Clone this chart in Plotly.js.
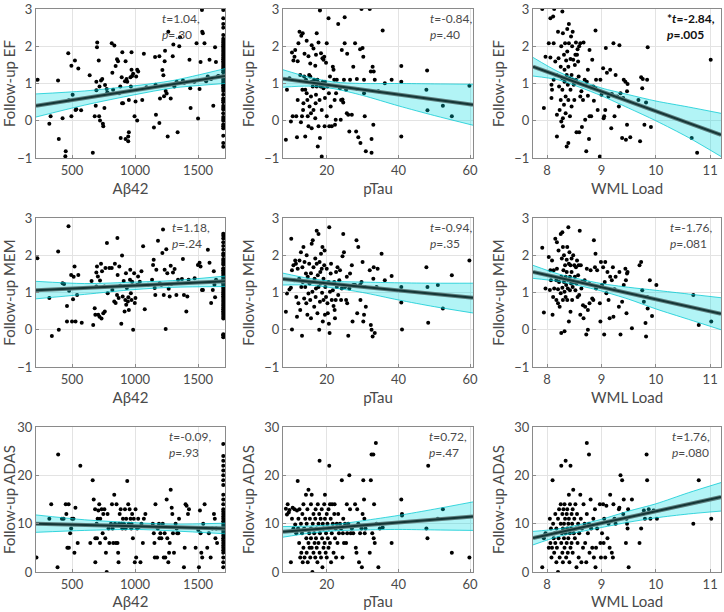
<!DOCTYPE html>
<html>
<head>
<meta charset="utf-8">
<script src="https://cdn.plot.ly/plotly-3.0.1.min.js"></script>
<style>
  html, body { margin: 0; padding: 0; background: #fff; }
  #chart { width: 724px; height: 612px; }
</style>
</head>
<body>
<div id="chart"></div>
<script>
// scatter points [x, y], one array per panel
// row 1: follow-up EF
var ab_ef = [[227,1.1],[330,0.12],[320,-0.08],[389,1.08],[395,-0.49],[425,0.07],[450,-0.82],[447,-0.95],[470,1.81],[495,1.48],
  [495,0.12],[475,0.55],[505,0.7],[523,1.62],[534,0.31],[528,0.29],[550,1.4],[572,0.28],[640,1.22],[665,-0.86],
  [680,0.12],[688,0.4],[693,0.82],[693,1.05],[698,1.97],[700,2.1],[712,1.62],[718,0.92],[715,0.12],[722,0.01],
  [730,1.08],[740,1.12],[745,-0.08],[748,-0.15],[757,0.34],[762,0.96],[775,0.85],[780,0.76],[785,0.74],[815,2.08],
  [820,1.29],[826,0.83],[836,2.02],[846,1.47],[857,1.65],[865,1.6],[873,0.74],[883,0.92],[894,1.17],[897,0.47],
  [899,1.84],[886,-0.46],[905,0.47],[920,1.06],[925,1.6],[925,-0.49],[933,1.12],[938,1.05],[946,-0.42],[946,-0.55],
  [951,0.56],[951,-0.31],[964,1.17],[967,0.92],[972,1.84],[972,1.37],[977,1.2],[985,1.26],[996,0.12],[1004,0.52],
  [1009,1.19],[1017,0.01],[1017,1.37],[1025,1.32],[1057,0.56],[1070,1.8],[1091,0.9],[1150,-0.18],[1159,1.71],[1166,0.16],
  [1163,0.97],[1193,1.73],[1193,-0.06],[1198,0.6],[1217,1.36],[1225,1.22],[1230,0.66],[1235,1.6],[1238,1.88],[1243,0.8],
  [1251,0.73],[1259,-0.42],[1264,2.39],[1283,0.6],[1299,1.73],[1304,2.05],[1312,0.92],[1330,1.05],[1338,-0.31],[1351,2.0],
  [1357,2.24],[1380,1.08],[1391,1.02],[1432,1.64],[1438,0.87],[1441,0.34],[1470,1.05],[1488,2.08],[1500,0.06],[1512,0.85],
  [1520,1.58],[1531,2.97],[1533,2.39],[1538,2.35],[1551,2.08],[1564,1.06],[1577,1.19],[1591,1.64],[1604,1.12],[1621,0.4],
  [1635,1.97],[1642,1.58],[1655,1.19],[1662,1.2],
  [1700,2.97],[1700,2.75],[1700,2.6],[1700,2.5],[1700,2.3],[1700,2.2],[1700,2.15],[1700,2.1],[1700,2.05],[1700,2.0],
  [1700,1.95],[1700,1.9],[1700,1.85],[1700,1.8],[1700,1.75],[1700,1.7],[1700,1.65],[1700,1.6],[1700,1.55],[1700,1.5],
  [1700,1.45],[1700,1.4],[1700,1.35],[1700,1.3],[1700,1.2],[1700,1.15],[1700,1.1],[1700,1.05],[1700,1.0],[1700,0.95],
  [1700,0.9],[1700,0.85],[1700,0.8],[1700,0.7],[1700,0.6],[1700,0.55],[1700,0.5],[1700,0.4],[1700,0.35],[1700,0.3],
  [1700,0.2],[1700,0.1],[1700,0.05],[1700,0.0],[1700,-0.1],[1700,-0.15],[1700,-0.2],[1700,-0.4],[1700,-0.6],[1700,-0.7]];

var tau_ef = [[8.6,-0.51],[8.9,0.83],[9.6,1.14],[10,-0.02],[10.3,1.83],[10.5,0.12],[10.7,1.62],[11,1.72],[11.2,1.9],[11.5,0.12],
  [11.7,-0.44],[11.9,0.56],[11.9,1.6],[12.1,2.08],[12.4,2.39],[12.6,1.23],[12.8,-0.04],[12.9,2.28],[13.1,0.12],[13.2,0.83],
  [13.3,2.35],[13.4,0.29],[13.5,0.47],[13.7,1.19],[13.8,1.8],[14,-0.42],[14,0.83],[14.2,1.1],[14.4,0.74],[14.4,2.15],
  [14.6,0.56],[14.7,0.12],[14.9,1.73],[14.9,-0.15],[15.1,1.23],[15.2,0.38],[15.4,1.54],[15.4,1.19],[15.6,0.2],[15.6,0.65],
  [15.8,-0.2],[15.8,1.05],[15.8,2.03],[16.1,0.92],[16.3,1.94],[16.3,0.29],[16.5,1.1],[16.8,0.07],[16.8,1.48],[16.9,0.47],
  [17,0.7],[17,1.77],[17.2,2.35],[17.2,0.92],[17.4,1.1],[17.5,-0.69],[17.7,2.1],[17.7,-0.15],[17.9,1.01],[18,0.56],
  [18.1,-0.46],[18.1,2.96],[18.3,0.92],[18.4,1.81],[18.6,-0.96],[18.6,0.29],[18.8,1.68],[18.9,1.05],[19.1,1.64],[19.1,0.87],
  [19.3,1.72],[19.4,-0.15],[19.5,1.05],[19.5,0.61],[19.8,1.56],[20,2.08],[20,0.12],[20.2,0.92],[20.5,2.75],[20.6,0.74],
  [20.7,-0.15],[20.9,1.19],[21.1,0.38],[21.4,-0.15],[21.7,1.45],[21.9,1.37],[22.1,1.1],[22.2,0.56],[22.3,-0.11],[22.5,0.03],
  [22.6,0.74],[22.8,1.1],[23.2,2.6],[23.7,0.87],[23.9,0.03],[24,0.56],[24.2,1.9],[24.4,0.57],[24.6,0.49],[24.8,1.1],
  [25,2.78],[25,2.08],[25.4,0.83],[25.6,0.2],[25.7,1.8],[26,0.16],[26.3,-0.29],[26.5,1.1],[27,0.16],[27.4,1.45],
  [27.9,2.08],[28.2,-0.29],[28.4,1.12],[28.5,0.85],[28.8,-0.44],[29.3,1.92],[29.4,-0.6],[29.7,3.0],[30,1.95],[30.2,1.72],
  [30.4,1.1],[30.4,0.74],[30.6,0.12],[30.9,-0.82],[32,3.0],[32.3,1.32],[32.5,-0.86],[32.5,-0.49],[32.8,1.45],[33,-0.11],
  [33.1,1.32],[33.4,1.1],[34.4,0.79],[35.6,2.42],[36.2,1.01],[38.1,1.1],[40.8,1.47],[40.8,1.05],[40.8,-0.42],[47.8,0.83],
  [48,1.35],[48.1,0.28],[52.4,0.4],[54.9,0.12],[59.8,0.94]];

var wml_ef = [[7.91,3.0],[7.94,0.34],[7.97,1.72],[8.03,2.08],[8.06,2.75],[8.11,2.8],[8.12,2.08],[8.06,1.7],[8.08,0.97],[8.08,0.61],
  [8.09,0.83],[8.12,1.1],[8.13,3.0],[8.15,1.59],[8.17,1.23],[8.18,-0.42],[8.18,0.16],[8.2,2.39],[8.21,1.68],[8.22,0.92],
  [8.23,0.29],[8.25,0.56],[8.25,1.45],[8.26,-0.02],[8.26,2.0],[8.28,2.93],[8.28,1.14],[8.28,0.83],[8.29,-0.15],[8.29,2.35],
  [8.29,0.07],[8.31,1.77],[8.31,0.43],[8.32,1.05],[8.32,1.37],[8.33,2.08],[8.34,0.65],[8.34,0.2],[8.35,1.62],[8.36,1.23],
  [8.36,-0.69],[8.37,2.46],[8.37,1.86],[8.38,0.97],[8.39,0.56],[8.39,-0.6],[8.39,1.45],[8.4,2.6],[8.4,2.08],[8.41,1.14],
  [8.42,0.12],[8.43,0.83],[8.43,1.66],[8.44,2.26],[8.45,1.23],[8.45,0.38],[8.46,2.0],[8.47,1.1],[8.47,2.39],[8.48,1.64],
  [8.49,0.97],[8.5,0.56],[8.51,1.5],[8.52,1.77],[8.53,2.1],[8.53,1.1],[8.54,-0.31],[8.55,1.77],[8.56,1.92],[8.57,1.59],
  [8.58,1.19],[8.59,-0.31],[8.59,2.0],[8.61,2.08],[8.61,0.65],[8.63,0.79],[8.64,-0.17],[8.66,0.56],[8.67,2.1],[8.69,1.1],
  [8.7,0.03],[8.72,-0.82],[8.73,1.05],[8.75,0.67],[8.75,1.37],[8.77,-0.49],[8.78,1.9],[8.78,0.12],[8.8,0.9],[8.81,0.12],
  [8.83,1.64],[8.85,0.92],[8.86,0.54],[8.89,0.87],[8.89,2.42],[8.9,1.1],[8.93,0.29],[8.97,-0.96],[8.98,1.1],[9.0,0.7],
  [9.03,1.41],[9.04,0.07],[9.05,0.12],[9.07,0.29],[9.08,1.95],[9.1,1.29],[9.13,0.65],[9.16,1.37],[9.18,-0.2],[9.19,0.72],
  [9.22,2.08],[9.24,0.12],[9.26,1.23],[9.29,0.65],[9.32,0.38],[9.33,2.03],[9.35,0.74],[9.38,-0.46],[9.4,0.61],[9.41,1.1],
  [9.44,1.05],[9.45,-0.51],[9.47,0.79],[9.47,-0.11],[9.48,0.99],[9.53,-0.44],[9.68,0.56],[9.71,-0.55],[9.73,1.17],[9.75,0.87],
  [9.76,1.12],[9.79,-0.11],[9.82,0.49],[9.84,1.1],[9.85,1.97],[9.91,-0.17],[10.66,-0.46],[10.76,-0.86],[11.01,1.64]];

// row 2: follow-up MEM
var ab_mem = [[225,1.92],[320,0.85],[340,-0.17],[390,2.1],[395,0.0],[425,1.25],[437,1.23],[460,0.64],[460,0.22],[472,2.78],
  [477,1.05],[493,1.47],[500,0.22],[508,0.82],[513,1.42],[520,1.7],[528,0.22],[540,0.93],[550,1.47],[577,0.19],
  [655,1.31],[668,0.13],[680,0.58],[685,0.4],[693,1.54],[693,1.16],[698,1.7],[705,1.43],[708,0.4],[718,0.35],
  [722,1.32],[730,1.77],[734,0.3],[738,1.57],[748,0.44],[757,1.16],[760,0.49],[765,1.66],[777,2.33],[783,0.98],
  [796,1.66],[815,1.66],[820,1.07],[835,0.76],[840,1.77],[846,0.72],[857,0.93],[860,2.46],[862,1.47],[870,0.85],
  [875,1.7],[883,1.18],[891,0.16],[897,1.99],[902,0.89],[910,1.31],[917,0.49],[923,0.8],[928,1.52],[930,0.67],
  [935,1.12],[943,0.76],[947,0.87],[951,0.53],[960,1.34],[962,1.61],[967,0.98],[972,0.8],[977,1.29],[985,0.0],
  [993,1.52],[998,0.72],[1003,0.85],[1019,1.21],[1024,1.43],[1038,1.29],[1051,1.57],[1064,2.24],[1077,0.55],[1103,1.21],
  [1135,1.34],[1143,1.74],[1148,1.88],[1156,1.12],[1161,0.93],[1169,1.61],[1182,2.39],[1196,1.25],[1209,1.21],[1217,2.06],
  [1222,2.69],[1228,0.93],[1235,1.61],[1243,0.02],[1248,2.16],[1256,1.52],[1267,1.1],[1275,0.89],[1283,1.72],[1288,1.23],
  [1301,1.54],[1314,1.63],[1328,0.93],[1341,1.34],[1372,1.36],[1380,1.9],[1388,0.93],[1407,0.49],[1415,0.89],[1425,1.34],
  [1473,1.38],[1499,1.74],[1512,1.8],[1520,1.7],[1531,1.07],[1539,1.07],[1578,2.15],[1591,1.8],[1604,0.72],[1617,1.07],
  [1625,1.57],[1630,1.21],[1635,0.87],[1643,1.34],
  [1700,2.58],[1700,2.52],[1700,2.45],[1700,2.35],[1700,2.25],[1700,2.15],[1700,2.05],[1700,2.0],[1700,1.9],[1700,1.85],
  [1700,1.8],[1700,1.75],[1700,1.65],[1700,1.6],[1700,1.55],[1700,1.5],[1700,1.45],[1700,1.4],[1700,1.35],[1700,1.3],
  [1700,1.25],[1700,1.2],[1700,1.15],[1700,1.1],[1700,1.05],[1700,1.0],[1700,0.95],[1700,0.9],[1700,0.85],[1700,0.8],
  [1700,0.75],[1700,0.7],[1700,0.65],[1700,0.6],[1700,0.55],[1700,0.5],[1700,0.45],[1700,0.4],[1700,0.35],[1700,0.3],
  [1700,-0.12],[1700,-0.15],[1700,-0.2]];

var tau_mem = [[8.6,0.48],[8.9,0.97],[9.6,1.08],[10,1.13],[10.1,2.44],[10.3,1.6],[10.3,0.01],[10.7,1.73],[10.9,1.33],[11.2,1.86],
  [11.4,1.77],[11.5,0.88],[11.7,0.35],[11.9,1.64],[12.1,0.71],[12.3,1.37],[12.4,1.86],[12.6,0.53],[12.8,2.08],[12.9,1.15],
  [13.1,-0.16],[13.2,1.68],[13.3,1.28],[13.5,2.22],[13.7,0.84],[13.8,1.82],[14,1.15],[14.2,1.51],[14.3,0.71],[14.4,2.0],
  [14.6,0.4],[14.7,1.42],[14.9,0.97],[15.1,1.77],[15.2,1.24],[15.4,0.8],[15.6,1.52],[15.6,0.31],[15.8,2.31],[15.8,1.28],
  [16,1.02],[16.1,2.4],[16.3,1.68],[16.5,0.62],[16.6,1.37],[16.8,1.91],[16.9,0.88],[17,1.11],[17.2,2.66],[17.2,1.77],
  [17.4,0.44],[17.5,1.46],[17.7,2.57],[17.7,1.15],[17.9,0.0],[18,1.82],[18.1,0.75],[18.2,1.55],[18.3,1.24],[18.4,2.04],
  [18.6,1.64],[18.7,0.99],[18.8,2.22],[18.9,0.22],[19.1,0.8],[19.1,1.37],[19.3,1.73],[19.4,2.13],[19.5,0.4],[19.6,1.15],
  [19.8,0.88],[20,1.64],[20.2,0.71],[20.3,0.44],[20.5,1.28],[20.6,0.16],[20.7,2.75],[20.8,-0.09],[20.9,1.02],[21.1,1.51],
  [21.2,1.77],[21.4,0.8],[21.7,1.06],[21.9,0.64],[22.1,1.28],[22.2,0.53],[22.3,0.31],[22.5,0.8],[22.6,1.55],[22.8,1.15],
  [23,1.68],[23.2,0.93],[23.5,1.33],[23.7,1.6],[24,0.8],[24.2,1.11],[24.4,1.97],[24.6,2.57],[24.8,2.08],[25.1,1.15],
  [25.4,0.8],[25.6,1.42],[25.7,0.71],[26,-0.16],[26.3,1.11],[26.5,1.51],[27,1.73],[27.2,0.22],[27.4,1.2],[27.9,1.2],
  [28.3,2.4],[28.5,0.44],[28.8,2.22],[29.3,1.2],[29.4,0.8],[29.7,1.28],[30,1.82],[30.2,0.22],[30.4,0.4],[30.6,1.15],
  [30.9,0.62],[32,1.6],[32.3,0.13],[32.5,0.0],[32.8,-0.18],[33,1.37],[33.1,1.68],[33.4,-0.09],[33.9,1.15],[34.2,1.64],
  [35.3,2.04],[36.2,1.33],[38.1,1.44],[40.8,1.15],[40.8,0.73],[41,0.01],[47.8,1.68],[48.1,1.15],[48.3,0.19],[51,1.2],
  [52.4,0.57],[54.9,1.46],[59.8,1.86]];

var wml_mem = [[7.91,2.2],[7.94,0.46],[7.97,1.11],[8.03,1.95],[8.05,1.07],[8.06,1.6],[8.07,1.33],[8.09,1.86],[8.1,0.4],[8.11,0.88],
  [8.12,1.6],[8.13,1.11],[8.15,2.44],[8.17,1.33],[8.17,0.8],[8.18,2.35],[8.18,1.64],[8.2,0.71],[8.2,1.09],[8.21,2.13],
  [8.22,1.28],[8.23,0.62],[8.25,2.57],[8.25,0.98],[8.26,1.42],[8.26,-0.09],[8.27,1.91],[8.28,1.13],[8.28,2.62],[8.29,2.22],
  [8.29,0.8],[8.3,1.6],[8.31,1.28],[8.31,2.0],[8.32,1.02],[8.32,-0.04],[8.33,1.73],[8.34,1.42],[8.34,0.88],[8.35,1.2],
  [8.36,1.88],[8.36,1.55],[8.37,0.8],[8.37,2.22],[8.38,1.11],[8.39,2.75],[8.39,1.33],[8.4,1.77],[8.4,0.22],[8.41,2.08],
  [8.42,1.06],[8.42,1.42],[8.43,1.73],[8.43,0.48],[8.44,1.24],[8.45,1.91],[8.45,1.55],[8.46,0.8],[8.47,1.15],[8.48,2.0],
  [8.49,1.28],[8.5,1.73],[8.51,1.42],[8.52,1.06],[8.53,1.68],[8.54,1.24],[8.55,1.86],[8.56,0.88],[8.57,1.46],[8.58,1.73],
  [8.59,0.93],[8.6,2.66],[8.61,0.4],[8.62,1.73],[8.63,1.11],[8.64,1.28],[8.66,0.66],[8.67,0.31],[8.69,1.33],[8.7,0.62],
  [8.72,-0.13],[8.73,1.64],[8.75,0.0],[8.75,0.53],[8.77,1.24],[8.78,0.71],[8.8,1.6],[8.83,0.84],[8.85,0.8],[8.86,2.4],
  [8.88,1.68],[8.89,2.04],[8.9,1.11],[8.92,1.6],[8.97,0.71],[8.98,0.22],[8.99,1.82],[9.01,1.2],[9.03,1.68],[9.05,-0.13],
  [9.06,1.28],[9.07,1.82],[9.09,0.98],[9.11,1.55],[9.13,0.8],[9.15,0.31],[9.16,1.42],[9.19,1.33],[9.21,1.68],[9.22,0.35],
  [9.24,1.09],[9.26,1.42],[9.32,0.62],[9.33,1.55],[9.35,-0.13],[9.38,0.75],[9.41,1.2],[9.44,1.64],[9.45,1.33],[9.46,0.44],
  [9.47,1.51],[9.48,1.55],[9.56,0.04],[9.7,1.73],[9.73,1.82],[9.75,1.06],[9.78,0.75],[9.81,0.18],[9.82,-0.18],[9.84,0.88],
  [9.85,0.57],[9.89,1.33],[9.93,0.37],[10.01,1.2],[10.69,0.93],[10.79,0.13],[11.02,0.22]];

// row 3: follow-up ADAS
var ab_adas = [[218,3],[320,11],[335,14],[385,1],[390,24.3],[420,11],[433,11],[450,14],[455,12],[463,5],
  [473,14],[475,5],[485,8],[493,9],[500,11],[511,11],[519,4],[527,13.3],[545,6],[566,22],
  [645,6],[664,19],[672,15],[683,13],[685,7],[685,2],[695,10],[698,7],[703,11],[709,12.7],
  [716,14],[722,6],[724,11],[735,13],[743,8],[748,12],[757,13],[764,7],[769,4],[775,0],
  [782,12],[790,9],[796,6],[809,10],[817,14],[822,9],[827,6],[835,16],[841,10],[848,6],
  [853,14],[861,6],[866,4],[869,2],[873,10],[878,12],[886,13],[894,10],[899,9],[904,11],
  [912,10],[920,13],[925,9],[930,11],[938,18.8],[946,14],[951,10],[957,13],[964,11],[970,9],
  [972,10],[977,12],[983,7],[990,11],[998,2],[1004,13],[1009,3],[1017,9],[1025,11],[1030,9.3],
  [1043,2],[1051,10],[1062,6],[1070,11],[1082,12],[1141,10],[1149,8],[1154,6],[1157,3],[1162,14],
  [1175,3],[1180,9],[1190,10],[1193,7],[1201,8],[1209,7],[1220,10],[1228,3],[1235,8],[1240,3],
  [1251,15],[1256,7],[1264,2],[1270,4],[1275,6],[1283,17],[1291,13.3],[1296,12],[1301,8],[1309,4],
  [1322,10],[1330,9],[1335,8],[1343,8],[1349,11],[1388,1],[1394,5],[1401,14],[1409,13.7],[1420,12],
  [1428,13],[1481,5],[1502,8.7],[1507,1],[1515,12.7],[1520,8],[1526,4],[1533,3],[1541,10],[1552,14],
  [1573,5],[1586,8],[1600,3],[1613,9],[1626,12],[1633,11],[1638,7],[1644,9],[1651,6],
  [1700,26.5],[1700,24],[1700,23],[1700,22],[1700,21],[1700,20],[1700,19],[1700,18],[1700,16],[1700,15],
  [1700,14],[1700,13],[1700,12.5],[1700,12],[1700,11.5],[1700,11],[1700,10.5],[1700,10],[1700,9.5],[1700,9],
  [1700,8.5],[1700,8],[1700,7.5],[1700,7],[1700,6.5],[1700,6],[1700,5.5],[1700,5],[1700,4.5],[1700,4],
  [1700,3],[1700,2],[1700,1]];

var tau_adas = [[8.6,13.1],[8.9,11.9],[9.1,14],[9.4,12.3],[9.6,12.8],[10,2],[10.3,11],[10.5,13.3],[10.7,9],[11,13],
  [11.2,9.8],[11.5,8],[11.7,12.7],[11.9,18.8],[12,9],[12.1,11],[12.3,6],[12.4,13],[12.6,3],[12.8,10],
  [12.9,4],[13.1,8],[13.2,12],[13.3,2],[13.5,5],[13.5,14],[13.7,9],[13.8,3],[14,11],[14.2,16],
  [14.3,7],[14.4,4],[14.4,10],[14.6,13],[14.7,2],[14.9,6],[14.9,17],[15.1,8],[15.2,5],[15.3,11],
  [15.4,3],[15.6,7],[15.6,14],[15.6,9],[15.8,16],[15.8,5],[16,0],[16.1,10],[16.3,12],[16.3,4],
  [16.5,8],[16.6,6],[16.8,11],[16.8,3],[16.9,13],[17,7],[17.2,9],[17.2,5],[17.4,2],[17.5,14],
  [17.7,10],[17.7,6],[17.9,12],[18,23],[18.0,4],[18.1,8],[18.3,11],[18.4,3],[18.6,13],[18.7,7],
  [18.8,1],[18.9,10],[19.1,5],[19.1,9],[19.3,14],[19.4,6],[19.5,11],[19.5,16],[19.7,4],[19.8,8],
  [20,12],[20,3],[20.2,10],[20.3,7],[20.5,13],[20.5,5],[20.6,9],[20.7,22],[20.9,14],[20.9,6],
  [21.1,11],[21.2,2],[21.4,8],[21.5,14],[21.7,10],[21.9,4],[22.1,12],[22.2,14],[22.3,7],[22.5,9],
  [22.6,3],[22.8,10],[23,6],[23.2,12],[23.4,8],[23.7,10],[24,9],[24.2,19],[24.4,3],[24.5,8],
  [24.6,11],[24.8,6],[25.1,10],[25.4,6],[25.6,14],[25.7,8],[26,10],[26.3,20],[26.5,13],[26.7,8],
  [27,9],[27.4,8],[27.9,14],[28.1,5],[28.3,4],[28.5,13],[28.8,10],[29,2],[29.3,8],[29.7,9],
  [29.8,1],[30,12],[30.2,19],[30.4,15],[30.5,11],[30.6,8],[30.8,9],[32,4],[32.3,19],[32.5,24.3],
  [32.7,8],[33,24.3],[33.1,7],[33.2,14],[33.4,6],[33.7,26.7],[33.9,10],[34.4,1],[34.8,9],[35.6,9.2],
  [38.1,6],[40.8,15],[41,12],[41,11.7],[47.8,9],[48.1,7],[48.3,22],[51,11],[52.4,13],[54.9,4],
  [59.8,3]];

var wml_adas = [[7.91,1],[7.94,7],[7.97,8],[8.03,5],[8.05,11],[8.06,6],[8.07,9],[8.08,3],[8.09,5],[8.1,19],
  [8.11,10],[8.12,7],[8.13,4],[8.14,8],[8.15,6],[8.15,12],[8.17,2],[8.17,9],[8.18,5],[8.2,0],
  [8.2,11],[8.21,7],[8.22,13],[8.23,3],[8.25,10],[8.25,14],[8.26,6],[8.26,22],[8.27,8],[8.28,12],
  [8.28,4],[8.29,9],[8.29,2],[8.3,13],[8.31,7],[8.31,10],[8.32,5],[8.32,14],[8.33,11],[8.34,23],
  [8.34,8],[8.35,3],[8.36,12],[8.36,6],[8.37,9],[8.37,13],[8.38,4],[8.39,10],[8.39,7],[8.4,16],
  [8.4,11],[8.41,2],[8.42,8],[8.42,14],[8.43,5],[8.43,22],[8.44,9],[8.45,12],[8.45,6],[8.46,10],
  [8.47,4],[8.47,13],[8.48,17],[8.49,8],[8.5,11],[8.51,7],[8.52,14],[8.53,9],[8.54,1],[8.55,12],
  [8.56,6],[8.57,10],[8.58,3],[8.59,8],[8.61,16],[8.62,11],[8.63,2],[8.64,9],[8.66,5],[8.67,14],
  [8.69,10],[8.7,6],[8.72,2],[8.73,26.7],[8.73,12],[8.75,8],[8.77,24.3],[8.77,10],[8.78,4],[8.8,15],
  [8.81,9],[8.83,5],[8.85,11],[8.86,3],[8.88,13],[8.89,1],[8.9,5],[8.92,9],[8.97,14],[8.98,6],
  [8.99,3],[9.01,8],[9.03,14],[9.04,6],[9.05,11],[9.07,3],[9.09,13.7],[9.11,7],[9.13,10],[9.15,5],
  [9.16,16],[9.19,4],[9.21,3],[9.22,14],[9.24,11],[9.26,10],[9.32,13],[9.33,13.3],[9.35,20],[9.38,19],
  [9.4,12],[9.41,15],[9.45,6],[9.46,11],[9.47,10],[9.48,9],[9.49,13],[9.5,1],[9.56,15],[9.7,6],
  [9.73,9],[9.76,12],[9.78,12.7],[9.8,11],[9.83,24.3],[9.84,19],[9.87,13],[9.9,11],[9.96,12.7],[10.02,11],
  [10.69,10],[10.79,19],[11.02,11]];

// regression fits and 95% bands
var ab_fit_x = [214, 1714];
var tau_fit_x = [7.8, 60.8];
var wml_fit_x = [7.74, 11.2];
var ab_band_x = [214, 600, 1000, 1300, 1714];
var tau_band_x = [7.8, 15, 22, 30, 40, 50, 60.8];
var wml_band_x = [7.74, 8.2, 8.6, 9.0, 9.5, 10, 10.6, 11.2];

var ab_ef_fit = [0.4, 1.2];
var ab_ef_lo = [0.1, 0.42, 0.70, 0.88, 1.0];
var ab_ef_hi = [0.72, 0.8, 0.94, 1.08, 1.4];
var tau_ef_fit = [1.13, 0.43];
var tau_ef_lo = [0.9, 0.93, 0.86, 0.68, 0.4, 0.14, -0.12];
var tau_ef_hi = [1.37, 1.17, 1.04, 1.0, 1.0, 0.99, 0.98];
var wml_ef_fit = [1.45, -0.38];
var wml_ef_lo = [1.2, 1.1, 0.9, 0.67, 0.34, 0.0, -0.45, -0.96];
var wml_ef_hi = [1.7, 1.32, 1.08, 0.88, 0.7, 0.53, 0.37, 0.2];

var ab_mem_fit = [1.06, 1.3];
var ab_mem_lo = [0.83, 0.95, 1.08, 1.14, 1.16];
var ab_mem_hi = [1.3, 1.24, 1.28, 1.32, 1.44];
var tau_mem_fit = [1.36, 0.86];
var tau_mem_lo = [1.2, 1.2, 1.12, 1.0, 0.8, 0.62, 0.45];
var tau_mem_hi = [1.52, 1.38, 1.3, 1.28, 1.26, 1.25, 1.25];
var wml_mem_fit = [1.55, 0.43];
var wml_mem_lo = [1.38, 1.3, 1.18, 1.04, 0.82, 0.56, 0.28, 0.0];
var wml_mem_hi = [1.73, 1.5, 1.36, 1.24, 1.14, 1.06, 0.96, 0.86];

var ab_adas_fit = [10.0, 9.0];
var ab_adas_lo = [8.2, 8.6, 8.8, 8.5, 7.9];
var ab_adas_hi = [11.8, 10.8, 10.2, 9.9, 10.1];
var tau_adas_fit = [8.3, 11.5];
var tau_adas_lo = [7.2, 8.0, 8.5, 8.7, 8.8, 8.7, 8.6];
var tau_adas_hi = [9.4, 9.5, 9.8, 10.6, 11.7, 13.0, 14.5];
var wml_adas_fit = [7.0, 15.5];
var wml_adas_lo = [5.6, 7.3, 8.3, 9.2, 10.3, 11.2, 12.0, 12.6];
var wml_adas_hi = [8.4, 8.9, 9.8, 10.9, 12.6, 14.1, 16.4, 18.5];

// statistics text per panel
var stat_t = ['1.04', '-0.84', '-2.84', '1.18', '-0.94', '-1.76', '-0.09', '0.72', '1.76'];
var stat_p = ['.30', '.40', '.005', '.24', '.35', '.081', '.93', '.47', '.080'];

var FONT = 'Lato, "Open Sans", sans-serif';

var cols = [
  {title: 'Aβ42', range: [214, 1714], ticks: [500, 1000, 1500], dom: [0.0497, 0.3108], fitX: ab_fit_x, bandX: ab_band_x},
  {title: 'pTau', range: [7.8, 60.8], ticks: [20, 40, 60], dom: [0.3909, 0.6533], fitX: tau_fit_x, bandX: tau_band_x},
  {title: 'WML Load', range: [7.74, 11.2], ticks: [8, 9, 10, 11], dom: [0.7362, 0.9959], fitX: wml_fit_x, bandX: wml_band_x}
];
var rows = [
  {title: 'Follow-up EF', range: [-1, 3], ticks: [-1, 0, 1, 2, 3], dom: [0.7418, 0.9853], standoff: 6},
  {title: 'Follow-up MEM', range: [-1, 3], ticks: [-1, 0, 1, 2, 3], dom: [0.4003, 0.6438], standoff: 6},
  {title: 'Follow-up ADAS', range: [0, 30], ticks: [0, 10, 20, 30], dom: [0.0654, 0.3023], standoff: 3}
];

// panels in row-major order
var panels = [
  {pts: ab_ef, fit: ab_ef_fit, lo: ab_ef_lo, hi: ab_ef_hi, annX: 0.656},
  {pts: tau_ef, fit: tau_ef_fit, lo: tau_ef_lo, hi: tau_ef_hi, annX: 0.763},
  {pts: wml_ef, fit: wml_ef_fit, lo: wml_ef_lo, hi: wml_ef_hi, annX: 0.70, bold: true},
  {pts: ab_mem, fit: ab_mem_fit, lo: ab_mem_lo, hi: ab_mem_hi, annX: 0.709},
  {pts: tau_mem, fit: tau_mem_fit, lo: tau_mem_lo, hi: tau_mem_hi, annX: 0.763},
  {pts: wml_mem, fit: wml_mem_fit, lo: wml_mem_lo, hi: wml_mem_hi, annX: 0.718},
  {pts: ab_adas, fit: ab_adas_fit, lo: ab_adas_lo, hi: ab_adas_hi, annX: 0.693},
  {pts: tau_adas, fit: tau_adas_fit, lo: tau_adas_lo, hi: tau_adas_hi, annX: 0.758},
  {pts: wml_adas, fit: wml_adas_fit, lo: wml_adas_lo, hi: wml_adas_hi, annX: 0.729}
];

var data = [];
var layout = {
  width: 724, height: 612,
  margin: {l: 0, r: 0, t: 0, b: 0},
  paper_bgcolor: '#fff', plot_bgcolor: '#fff',
  showlegend: false,
  font: {family: FONT, size: 13, color: '#4a4a4a'},
  annotations: []
};

panels.forEach(function(p, i) {
  var r = Math.floor(i / 3), c = i % 3;
  var col = cols[c], row = rows[r];
  var n = i + 1;
  var xa = 'x' + (n === 1 ? '' : n), ya = 'y' + (n === 1 ? '' : n);

  // points first, band is drawn semi-transparent over them
  data.push({
    x: p.pts.map(function(d) { return d[0]; }),
    y: p.pts.map(function(d) { return d[1]; }),
    xaxis: xa, yaxis: ya, type: 'scatter', mode: 'markers',
    marker: {size: 4, color: '#000'}, hoverinfo: 'skip'
  });
  data.push({
    x: col.bandX, y: p.hi, xaxis: xa, yaxis: ya, type: 'scatter', mode: 'lines',
    line: {color: 'rgba(0,200,210,0.75)', width: 1, shape: 'spline', smoothing: 0.8}, hoverinfo: 'skip'
  });
  data.push({
    x: col.bandX, y: p.lo, xaxis: xa, yaxis: ya, type: 'scatter', mode: 'lines',
    fill: 'tonexty', fillcolor: 'rgba(0,220,225,0.3)',
    line: {color: 'rgba(0,200,210,0.75)', width: 1, shape: 'spline', smoothing: 0.8}, hoverinfo: 'skip'
  });
  // regression line: soft halo + dark core
  data.push({
    x: col.fitX, y: p.fit, xaxis: xa, yaxis: ya, type: 'scatter', mode: 'lines',
    line: {color: '#5f7f7f', width: 4}, hoverinfo: 'skip'
  });
  data.push({
    x: col.fitX, y: p.fit, xaxis: xa, yaxis: ya, type: 'scatter', mode: 'lines',
    line: {color: '#143636', width: 2}, hoverinfo: 'skip'
  });

  var axCommon = {
    showgrid: true, gridcolor: '#e3e3e3', gridwidth: 1,
    zeroline: false, showline: true, mirror: true,
    linecolor: '#8a8a8a', linewidth: 1,
    ticks: 'inside', ticklen: 3, tickcolor: '#8a8a8a',
    tickfont: {family: FONT, size: 13, color: '#4a4a4a'},
    fixedrange: true
  };
  layout['xaxis' + (n === 1 ? '' : n)] = Object.assign({}, axCommon, {
    domain: col.dom, range: col.range, tickvals: col.ticks, anchor: ya,
    title: {text: col.title, font: {family: FONT, size: 15, color: '#4a4a4a'}, standoff: row.standoff}
  });
  layout['yaxis' + (n === 1 ? '' : n)] = Object.assign({}, axCommon, {
    domain: row.dom, range: row.range, tickvals: row.ticks, anchor: xa,
    title: {text: row.title, font: {family: FONT, size: 15, color: '#4a4a4a'}, standoff: 6}
  });

  var txt = '<i>t</i>=' + stat_t[i] + ',<br><i>p</i>=' + stat_p[i];
  if (p.bold) txt = '<b>*<i>t</i>=' + stat_t[i] + ',<br><i>p</i>=' + stat_p[i] + '</b>';
  layout.annotations.push({
    xref: xa + ' domain', yref: ya + ' domain',
    x: p.annX, y: 1.0, xanchor: 'left', yanchor: 'top', align: 'left',
    showarrow: false, text: txt,
    font: {family: FONT, size: 12, color: p.bold ? '#111' : '#4a4a4a'}
  });
});

Plotly.newPlot('chart', data, layout, {displayModeBar: false, staticPlot: true});
</script>
</body>
</html>
